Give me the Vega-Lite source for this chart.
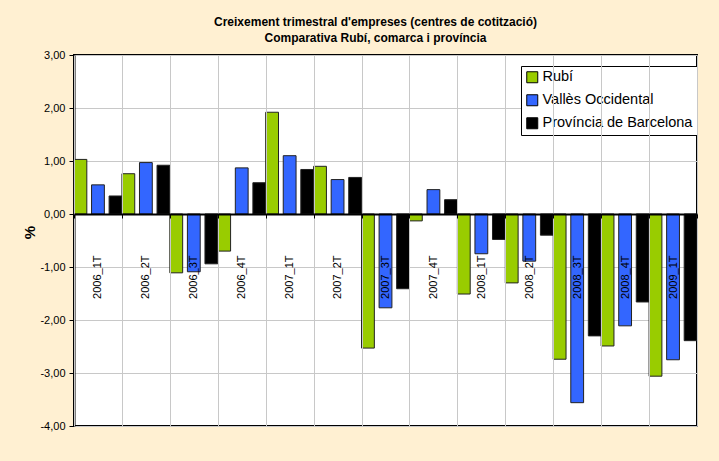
{
  "$schema": "https://vega.github.io/schema/vega-lite/v6.json",
  "width": 623,
  "height": 371,
  "autosize": {"type": "none"},
  "padding": {"left": 74, "top": 55, "right": 22, "bottom": 35},
  "background": "#FFF0D2",
  "title": {
    "text": ["Creixement trimestral d'empreses (centres de cotització)", "Comparativa Rubí, comarca i província"],
    "font": "Liberation Sans",
    "fontSize": 12,
    "fontWeight": "bold",
    "lineHeight": 16,
    "anchor": "middle",
    "dx": -10,
    "offset": 4,
    "color": "black"
  },
  "config": {
    "view": {"fill": "white", "stroke": "black", "strokeWidth": 2},
    "font": "Liberation Sans"
  },
  "data": {
    "values": [
      {"q": "2006_1T", "serie": "Rubí", "v": 1.03},
      {"q": "2006_1T", "serie": "Vallès Occidental", "v": 0.55},
      {"q": "2006_1T", "serie": "Província de Barcelona", "v": 0.34},
      {"q": "2006_2T", "serie": "Rubí", "v": 0.76},
      {"q": "2006_2T", "serie": "Vallès Occidental", "v": 0.97},
      {"q": "2006_2T", "serie": "Província de Barcelona", "v": 0.92},
      {"q": "2006_3T", "serie": "Rubí", "v": -1.11},
      {"q": "2006_3T", "serie": "Vallès Occidental", "v": -1.09},
      {"q": "2006_3T", "serie": "Província de Barcelona", "v": -0.94},
      {"q": "2006_4T", "serie": "Rubí", "v": -0.70},
      {"q": "2006_4T", "serie": "Vallès Occidental", "v": 0.87},
      {"q": "2006_4T", "serie": "Província de Barcelona", "v": 0.59},
      {"q": "2007_1T", "serie": "Rubí", "v": 1.92},
      {"q": "2007_1T", "serie": "Vallès Occidental", "v": 1.10},
      {"q": "2007_1T", "serie": "Província de Barcelona", "v": 0.84},
      {"q": "2007_2T", "serie": "Rubí", "v": 0.90},
      {"q": "2007_2T", "serie": "Vallès Occidental", "v": 0.65},
      {"q": "2007_2T", "serie": "Província de Barcelona", "v": 0.69},
      {"q": "2007_3T", "serie": "Rubí", "v": -2.53},
      {"q": "2007_3T", "serie": "Vallès Occidental", "v": -1.77},
      {"q": "2007_3T", "serie": "Província de Barcelona", "v": -1.41},
      {"q": "2007_4T", "serie": "Rubí", "v": -0.13},
      {"q": "2007_4T", "serie": "Vallès Occidental", "v": 0.46},
      {"q": "2007_4T", "serie": "Província de Barcelona", "v": 0.27},
      {"q": "2008_1T", "serie": "Rubí", "v": -1.51},
      {"q": "2008_1T", "serie": "Vallès Occidental", "v": -0.75},
      {"q": "2008_1T", "serie": "Província de Barcelona", "v": -0.48},
      {"q": "2008_2T", "serie": "Rubí", "v": -1.30},
      {"q": "2008_2T", "serie": "Vallès Occidental", "v": -0.89},
      {"q": "2008_2T", "serie": "Província de Barcelona", "v": -0.40},
      {"q": "2008_3T", "serie": "Rubí", "v": -2.74},
      {"q": "2008_3T", "serie": "Vallès Occidental", "v": -3.56},
      {"q": "2008_3T", "serie": "Província de Barcelona", "v": -2.30},
      {"q": "2008_4T", "serie": "Rubí", "v": -2.49},
      {"q": "2008_4T", "serie": "Vallès Occidental", "v": -2.11},
      {"q": "2008_4T", "serie": "Província de Barcelona", "v": -1.66},
      {"q": "2009_1T", "serie": "Rubí", "v": -3.06},
      {"q": "2009_1T", "serie": "Vallès Occidental", "v": -2.75},
      {"q": "2009_1T", "serie": "Província de Barcelona", "v": -2.39}
    ]
  },
  "mark": {"type": "bar", "stroke": "#222222", "strokeWidth": 1},
  "encoding": {
    "x": {
      "field": "q",
      "type": "nominal",
      "sort": null,
      "scale": {"paddingInner": 0, "paddingOuter": 0},
      "axis": {
        "title": null,
        "orient": "bottom",
        "offset": -212,
        "labelAngle": 270,
        "labelFontSize": 11,
        "labelColor": "black",
        "labelPadding": 37,
        "tickBand": "extent",
        "tickColor": "black",
        "tickSize": 4,
        "domainColor": "black",
        "domainWidth": 2,
        "grid": true,
        "gridColor": "#C8C8C8",
        "zindex": 1
      }
    },
    "xOffset": {
      "field": "serie",
      "type": "nominal",
      "sort": ["Rubí", "Vallès Occidental", "Província de Barcelona"],
      "scale": {"paddingInner": 0.27, "paddingOuter": 0}
    },
    "y": {
      "field": "v",
      "type": "quantitative",
      "scale": {"domain": [-4, 3], "nice": false},
      "axis": {
        "title": "%",
        "titleFontSize": 15,
        "titleFontWeight": "bold",
        "titleColor": "black",
        "titleY": 177,
        "titlePadding": 2,
        "values": [-4, -3, -2, -1, 0, 1, 2, 3],
        "labelExpr": "replace((datum.value < 0 ? '-' : '') + format(abs(datum.value), '.2f'), '.', ',')",
        "labelFontSize": 11,
        "labelColor": "black",
        "labelPadding": 4,
        "tickColor": "black",
        "tickSize": 5,
        "domainColor": "black",
        "domainWidth": 2,
        "gridColor": "#C8C8C8"
      }
    },
    "color": {
      "field": "serie",
      "type": "nominal",
      "sort": ["Rubí", "Vallès Occidental", "Província de Barcelona"],
      "scale": {
        "domain": ["Rubí", "Vallès Occidental", "Província de Barcelona"],
        "range": ["#99CC00", "#3366FF", "#000000"]
      },
      "legend": {
        "orient": "none",
        "legendX": 447,
        "legendY": 11,
        "title": null,
        "fillColor": "white",
        "strokeColor": "black",
        "padding": 4,
        "labelFontSize": 14.5,
        "labelColor": "black",
        "labelLimit": 300,
        "labelOffset": 3,
        "symbolType": "square",
        "symbolSize": 121,
        "symbolStrokeColor": "black",
        "symbolStrokeWidth": 1,
        "rowPadding": 7
      }
    }
  }
}
